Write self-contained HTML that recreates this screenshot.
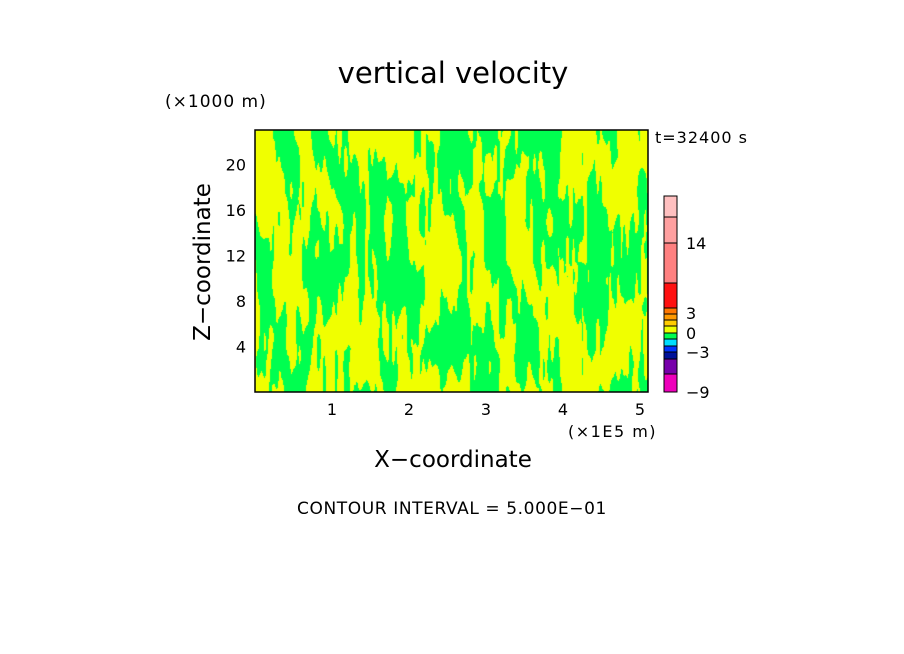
<!DOCTYPE html>
<html><head><meta charset="utf-8"><style>
body{margin:0;background:#fff;width:904px;height:654px;overflow:hidden;position:relative;font-family:"DejaVu Sans","Liberation Sans",sans-serif;}
.t{position:absolute;white-space:nowrap;color:#000;}
</style></head><body>
<svg width="904" height="654" style="position:absolute;left:0;top:0">
<foreignObject x="255" y="130" width="393" height="262"><canvas id="cv" width="393" height="262" xmlns="http://www.w3.org/1999/xhtml"></canvas></foreignObject>
<g id="ax"></g>
</svg>
<div class="t" style="left:0;width:906px;text-align:center;top:56px;font-size:29px">vertical velocity</div>
<div class="t" style="left:165px;top:92px;font-size:17px;letter-spacing:1px">(×1000 m)</div>
<div class="t" style="left:655px;top:128px;font-size:16px;letter-spacing:1px">t=32400 s</div>
<div class="t" style="left:568px;top:422px;font-size:16px;letter-spacing:1.5px">(×1E5 m)</div>
<div class="t" style="left:0;width:906px;text-align:center;top:447px;font-size:23px">X−coordinate</div>
<div class="t" style="left:203px;top:262px;font-size:23px;transform:translate(-50%,-50%) rotate(-90deg)">Z−coordinate</div>
<div class="t" style="left:0;width:904px;text-align:center;top:499px;font-size:17px;letter-spacing:0.6px">CONTOUR INTERVAL = 5.000E−01</div>
<script>
const xTicks=[1,2,3,4,5];
const yTicks=[4,8,12,16,20];
const barColors=["#ee00bb","#7700aa","#001199","#0033ff","#00ddff","#00ff50","#eeff00","#ffcc00","#ff9900","#ff7700","#ff1010","#ff8080","#ffa0a0","#ffc0c0"];
const barBounds=[392,374,359,352,346,339,333,326,320,314,308,283,243,217,196];
const barLabels=["-9","-3","0","3","14"];
const barLabelY=[392,352,333,313,243];
const X0=255,X1=648,Y0=392,Y1=130;
const sx=v=>X0+v*77, sy=v=>Y0-v*11.375;
const NS="http://www.w3.org/2000/svg",ax=document.getElementById('ax');
function mk(tag,at,txt){const e=document.createElementNS(NS,tag);for(const k in at)e.setAttribute(k,at[k]);if(txt!=null)e.textContent=txt;ax.appendChild(e);return e;}
const fr=mk('rect',{x:X0,y:Y1,width:X1-X0,height:Y0-Y1,fill:'none',stroke:'#000','stroke-width':1.5});


xTicks.forEach(v=>{const t=mk('text',{x:sx(v),y:415,'font-size':16,'text-anchor':'middle','font-family':'DejaVu Sans, sans-serif'},String(v));

});
yTicks.forEach(v=>{const t=mk('text',{x:246,y:sy(v)+6,'font-size':16,'text-anchor':'end','font-family':'DejaVu Sans, sans-serif'},String(v));

});
barColors.forEach((c,i)=>{const r=mk('rect',{x:664,y:barBounds[i+1],width:13,height:barBounds[i]-barBounds[i+1],fill:c,stroke:'#000','stroke-width':1});

});
barLabels.forEach((l,i)=>{const t=mk('text',{x:686,y:barLabelY[i]+6,'font-size':16,'font-family':'DejaVu Sans, sans-serif'},l.replace('-','−'));

});
// field texture
const cv=document.getElementById('cv'),ctx=cv.getContext('2d');
function h(i,j){let n=i*374761393+j*668265263;n=(n^(n>>>13))*1274126177;n=n^(n>>>16);return (n&0xffff)/65535;}
function vn(x,y){const i=Math.floor(x),j=Math.floor(y),fx=x-i,fy=y-j;const ux=fx*fx*(3-2*fx),uy=fy*fy*(3-2*fy);
const a=h(i,j),b=h(i+1,j),c=h(i,j+1),d=h(i+1,j+1);return a+(b-a)*ux+(c-a)*uy+(a-b-c+d)*ux*uy;}
const img=ctx.createImageData(393,262);
for(let y=0;y<262;y++)for(let x=0;x<393;x++){
 const fine=x/393;
 const f=(0.55-0.2*fine)*vn(x/22+vn(x/40,y/60)*1.5,y/70)+(0.25+0.1*fine)*vn(x/7,y/45+3)+(0.2+0.1*fine)*vn(x/3,y/30+7);
 const g=f>0.5;const k=(y*393+x)*4;
 img.data[k]=g?0:240;img.data[k+1]=255;img.data[k+2]=g?80:0;img.data[k+3]=255;}
ctx.putImageData(img,0,0);
</script>
</body></html>
